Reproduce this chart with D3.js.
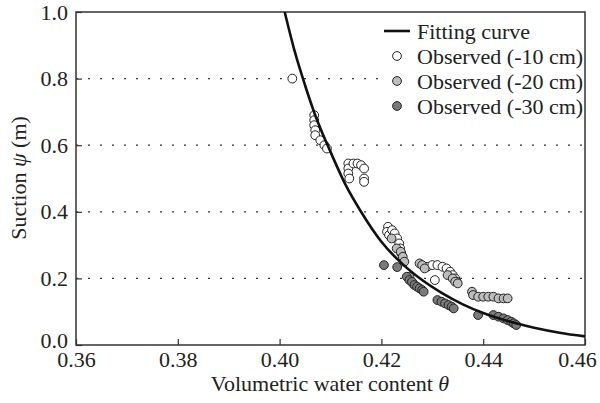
<!DOCTYPE html>
<html><head><meta charset="utf-8">
<script src="https://cdn.jsdelivr.net/npm/d3@7"></script>
<style>body{margin:0;background:#fff}text{font-family:"Liberation Serif","Times New Roman",serif;fill:#222}</style>
</head><body>
<svg id="c" width="600" height="403"></svg>
<script>
// ---- data ----
const xTicks = [0.36, 0.38, 0.40, 0.42, 0.44, 0.46];
const yTicks = [0.0, 0.2, 0.4, 0.6, 0.8, 1.0];
const gridY = [0.2, 0.4, 0.6, 0.8];
const seriesNames = ["Observed (-10 cm)", "Observed (-20 cm)", "Observed (-30 cm)"];
const curveTheta = [0.401,0.403,0.405,0.407,0.410,0.413,0.416,0.420,0.424,0.428,0.432,0.436,0.440,0.445,0.450,0.455,0.460];
const curvePsi   = [1.00, 0.88, 0.78, 0.69, 0.58, 0.48, 0.40, 0.31, 0.245,0.195,0.155,0.122,0.096,0.071,0.052,0.037,0.026];
const obs10Theta = [0.4025,0.4068,0.4068,0.4068,0.4070,0.4070,0.4080,0.4088,0.4093,0.4135,0.4135,0.4135,0.4137,0.4145,0.4153,0.4160,0.4166,0.4166,0.4166,0.4213,0.4211,0.4215,0.4221,0.4226,0.4231,0.4235,0.4237,0.4239,0.4290,0.4300,0.4310,0.4320,0.4328,0.4335,0.4340,0.4345,0.4348,0.4305];
const obs10Psi   = [0.80,0.69,0.675,0.66,0.645,0.63,0.615,0.60,0.59,0.545,0.53,0.515,0.50,0.545,0.545,0.54,0.53,0.50,0.49,0.355,0.34,0.33,0.345,0.335,0.32,0.305,0.29,0.275,0.235,0.24,0.24,0.235,0.23,0.22,0.21,0.20,0.19,0.195];
const obs20Theta = [0.4220,0.4230,0.4238,0.4242,0.4245,0.4255,0.4262,0.4275,0.4280,0.4285,0.4330,0.4340,0.4345,0.4350,0.4378,0.4380,0.4390,0.4400,0.4410,0.4420,0.4430,0.4440,0.4448];
const obs20Psi   = [0.32,0.29,0.28,0.265,0.25,0.205,0.185,0.245,0.24,0.23,0.21,0.20,0.19,0.185,0.16,0.15,0.145,0.145,0.145,0.145,0.14,0.14,0.14];
const obs30Theta = [0.4205,0.4231,0.4250,0.4255,0.4260,0.4265,0.4270,0.4275,0.4280,0.4283,0.4310,0.4318,0.4325,0.4332,0.4338,0.4342,0.4390,0.4420,0.4430,0.4440,0.4448,0.4455,0.4460,0.4465];
const obs30Psi   = [0.24,0.234,0.205,0.195,0.19,0.18,0.175,0.17,0.165,0.16,0.135,0.13,0.125,0.12,0.115,0.11,0.09,0.09,0.085,0.08,0.075,0.07,0.065,0.06];
const fills = ["#ffffff", "#bdbdbd", "#7a7a7a"];

// ---- layout ----
const L = 76, R = 585, T = 12, B = 345;
const FS = 22;
const svg = d3.select("#c");
const x = d3.scaleLinear().domain([0.36, 0.46]).range([L, R]);
const y = d3.scaleLinear().domain([0, 1]).range([B, T]);

// gridlines
svg.append("g").selectAll("line").data(gridY).join("line")
  .attr("x1", L).attr("x2", R).attr("y1", d => y(d)).attr("y2", d => y(d))
  .attr("stroke", "#333").attr("stroke-width", 1.2).attr("stroke-dasharray", "2,10");

// axes
const xa = svg.append("g").attr("transform", `translate(0,${B})`)
  .call(d3.axisBottom(x).tickValues(xTicks).tickFormat(d3.format(".2f")).tickSizeInner(-6).tickSizeOuter(0).tickPadding(6));
const ya = svg.append("g").attr("transform", `translate(${L},0)`)
  .call(d3.axisLeft(y).tickValues(yTicks).tickFormat(d3.format(".1f")).tickSizeInner(-6).tickSizeOuter(0).tickPadding(8));
[xa, ya].forEach(a => {
  a.select(".domain").remove();
  a.selectAll(".tick line").attr("stroke", "#333").attr("stroke-width", 1.2);
  a.selectAll(".tick text").attr("font-size", FS).attr("font-family", "Liberation Serif").attr("fill", "#222");
});
xa.selectAll(".tick text").attr("dy", "0.71em").filter(d => d === 0.46).attr("dx", -8);
ya.selectAll(".tick text").filter(d => d === 0).attr("dy", "0.1em");

// frame
svg.append("rect").attr("x", L).attr("y", T).attr("width", R - L).attr("height", B - T)
  .attr("fill", "none").attr("stroke", "#333").attr("stroke-width", 1.5);

// observed points
const obs = [
  d3.zip(obs10Theta, obs10Psi),
  d3.zip(obs20Theta, obs20Psi),
  d3.zip(obs30Theta, obs30Psi)
];
obs.forEach((pts, i) => {
  svg.append("g").selectAll("circle").data(pts).join("circle")
    .attr("cx", d => x(d[0])).attr("cy", d => y(d[1])).attr("r", 4.4)
    .attr("fill", fills[i]).attr("stroke", "#222").attr("stroke-width", 1);
});

// fitting curve
const curveData = d3.zip(curveTheta, curvePsi);
svg.append("path").datum(curveData)
  .attr("d", d3.line().x(d => x(d[0])).y(d => y(d[1])).curve(d3.curveMonotoneX))
  .attr("fill", "none").attr("stroke", "#111").attr("stroke-width", 2.6);

// legend
const lg = svg.append("g");
lg.append("rect").attr("x", 384).attr("y", T + 1).attr("width", R - 385).attr("height", 112).attr("fill", "#fff");
const rows = [31, 56, 81, 106];
lg.append("line").attr("x1", 384).attr("x2", 410).attr("y1", rows[0]).attr("y2", rows[0]).attr("stroke", "#111").attr("stroke-width", 2.6);
lg.append("text").attr("x", 417).attr("y", rows[0]).attr("dy", "0.35em").attr("font-size", FS).text("Fitting curve");
seriesNames.forEach((n, i) => {
  lg.append("circle").attr("cx", 397).attr("cy", rows[i + 1]).attr("r", 4.4).attr("fill", fills[i]).attr("stroke", "#222");
  lg.append("text").attr("x", 417).attr("y", rows[i + 1]).attr("dy", "0.35em").attr("font-size", FS).text(n);
});

// axis titles
const xt = svg.append("text").attr("x", 330).attr("y", 391).attr("text-anchor", "middle").attr("font-size", FS);
xt.append("tspan").text("Volumetric water content  ");
xt.append("tspan").attr("font-style", "italic").text("θ");
const yt = svg.append("text").attr("transform", "translate(26,178) rotate(-90)").attr("text-anchor", "middle").attr("font-size", FS);
yt.append("tspan").text("Suction  ");
yt.append("tspan").attr("font-style", "italic").text("ψ");
yt.append("tspan").text(" (m)");
</script>
</body></html>
